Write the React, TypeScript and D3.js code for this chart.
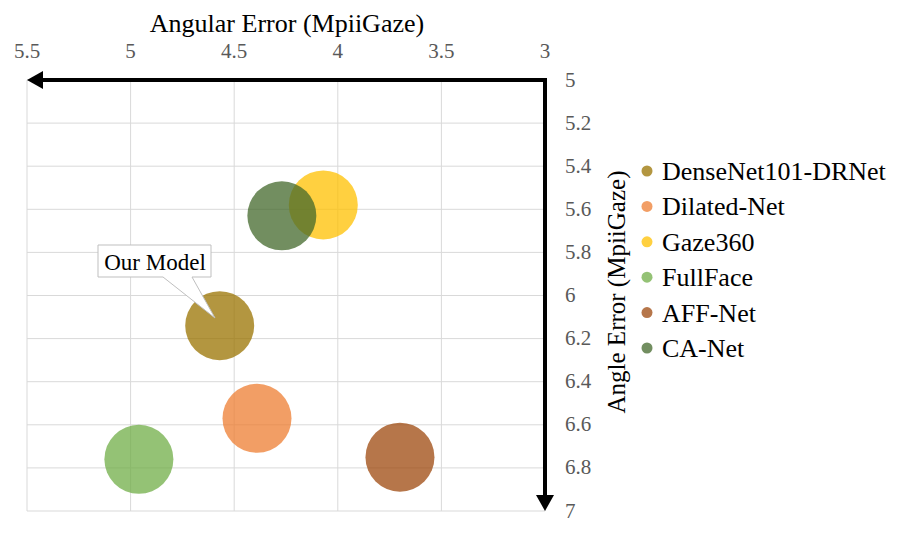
import React from "react";
import * as d3 from "d3";

const models = ["DenseNet101-DRNet", "Dilated-Net", "Gaze360", "FullFace", "AFF-Net", "CA-Net"];
const angularErrX = [4.57, 4.39, 4.07, 4.96, 3.70, 4.27];
const angleErrY = [6.14, 6.57, 5.58, 6.76, 6.75, 5.63];
const colors = ["#997300", "#ED7D31", "#FFC000", "#70AD47", "#9E480E", "#43682B"];
const xTicks = [5.5, 5, 4.5, 4, 3.5, 3];
const yTicks = [5, 5.2, 5.4, 5.6, 5.8, 6, 6.2, 6.4, 6.6, 6.8, 7];
const drawOrder = [2, 5, 0, 1, 3, 4];

const W = 899;
const H = 549;
const FONT = "Liberation Serif, Times New Roman, Times, serif";

export default function App() {
  const x = d3.scaleLinear().domain([5.5, 3]).range([27, 545]);
  const y = d3.scaleLinear().domain([5, 7]).range([80, 511]);
  const r = 34.5;
  const fmt = (v: number) => d3.format("~g")(v);

  const ax = x(3);
  const ay = y(5);
  const ts = { fontFamily: FONT };

  return (
    <svg
      width={W}
      height={H}
      style={{ position: "absolute", left: 0, top: 0, background: "#fff", fontFamily: FONT }}
    >
      <rect x={0} y={0} width={W} height={H} fill="#fff" />
      {/* grid */}
      {xTicks.map((t) => (
        <line key={"gx" + t} x1={x(t)} x2={x(t)} y1={y(5)} y2={y(7)} stroke="#d9d9d9" strokeWidth={1} />
      ))}
      {yTicks.map((t) => (
        <line key={"gy" + t} x1={x(5.5)} x2={x(3)} y1={y(t)} y2={y(t)} stroke="#d9d9d9" strokeWidth={1} />
      ))}
      {/* bubbles */}
      {drawOrder.map((i) => (
        <circle key={models[i]} cx={x(angularErrX[i])} cy={y(angleErrY[i])} r={r} fill={colors[i]} fillOpacity={0.75} />
      ))}
      {/* axes arrows */}
      <line x1={ax} x2={x(5.5) + 14} y1={ay} y2={ay} stroke="#000" strokeWidth={4} />
      <line x1={ax} x2={ax} y1={ay - 2} y2={y(7) - 14} stroke="#000" strokeWidth={4} />
      <path d={`M${x(5.5)},${ay} L${x(5.5) + 16},${ay - 9} L${x(5.5) + 16},${ay + 9} Z`} fill="#000" />
      <path d={`M${ax},${y(7)} L${ax - 9},${y(7) - 16} L${ax + 9},${y(7) - 16} Z`} fill="#000" />
      {/* x tick labels */}
      {xTicks.map((t) => (
        <text key={"tx" + t} x={x(t)} y={58} textAnchor="middle" fontSize={21} fill="#595959" style={ts}>
          {fmt(t)}
        </text>
      ))}
      {yTicks.map((t) => (
        <text key={"ty" + t} x={565} y={y(t) + 6.5} textAnchor="start" fontSize={21} fill="#595959" style={ts}>
          {fmt(t)}
        </text>
      ))}
      {/* axis titles */}
      <text x={287} y={32} textAnchor="middle" fontSize={26} fill="#000" style={ts}>
        Angular Error (MpiiGaze)
      </text>
      <text
        transform={`translate(625, ${292}) rotate(-90)`}
        textAnchor="middle"
        fontSize={25}
        fill="#000"
        style={ts}
      >
        Angle Error (MpiiGaze)
      </text>
      {/* callout */}
      <path
        d="M98,245 L211,245 L211,277 L192,277 L215,318 L163,277 L98,277 Z"
        fill="#fff"
        stroke="#bfbfbf"
        strokeWidth={1}
      />
      <text x={155} y={270} textAnchor="middle" fontSize={23} fill="#000" style={ts}>
        Our Model
      </text>
      {/* legend */}
      {models.map((m, i) => (
        <g key={"lg" + m} transform={`translate(647, ${171 + i * 35.4})`}>
          <circle cx={0} cy={0} r={5.5} fill={colors[i]} fillOpacity={0.75} />
          <text x={15} y={9} fontSize={26} fill="#000" style={ts}>
            {m}
          </text>
        </g>
      ))}
    </svg>
  );
}
